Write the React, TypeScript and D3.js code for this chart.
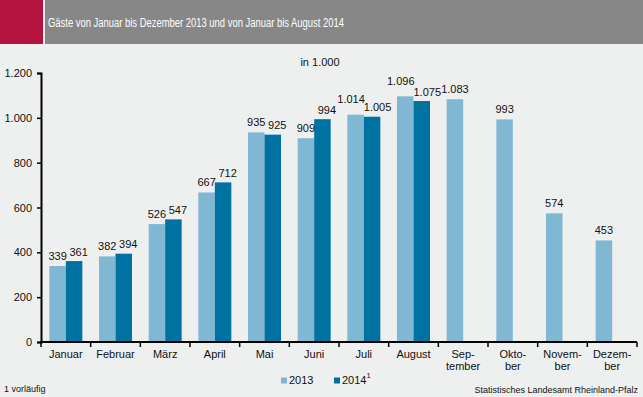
import React, { useEffect, useRef } from 'react';
import * as d3 from 'd3';

const months = ['Januar', 'Februar', 'März', 'April', 'Mai', 'Juni', 'Juli', 'August', 'Sep-|tember', 'Okto-|ber', 'Novem-|ber', 'Dezem-|ber'];
const gaeste2013 = [339, 382, 526, 667, 935, 909, 1014, 1096, 1083, 993, 574, 453];
const gaeste2014 = [361, 394, 547, 712, 925, 994, 1005, 1075];
const yTicks = [0, 200, 400, 600, 800, 1000, 1200];

const W = 643;
const H = 397;
const FONT = '"Liberation Sans", Arial, sans-serif';
const LIGHT = '#80b8d4';
const DARK = '#0072a2';

const de = d3.formatLocale({ decimal: ',', thousands: '.', grouping: [3], currency: ['', ' €'] });
const fmt = de.format(',d');

const App = () => {
  const svgRef = useRef<SVGSVGElement>(null);

  useEffect(() => {
    const svg = d3.select(svgRef.current);
    svg.selectAll('*').remove();

    svg.append('rect').attr('width', W).attr('height', H).attr('fill', '#eef0ef');

    // Kopfzeile (schmale Schrift per textLength nachgebildet)
    svg.append('rect').attr('x', 0).attr('y', 0).attr('width', 43).attr('height', 44).attr('fill', '#b5133f');
    svg.append('rect').attr('x', 45).attr('y', 0).attr('width', W - 45).attr('height', 44).attr('fill', '#878787');
    svg.append('text')
      .attr('x', 48).attr('y', 26.5)
      .attr('fill', '#fff').attr('font-size', 12).attr('font-family', FONT)
      .attr('textLength', 296).attr('lengthAdjust', 'spacingAndGlyphs')
      .text('Gäste von Januar bis Dezember 2013 und von Januar bis August 2014');

    svg.append('text')
      .attr('x', 320).attr('y', 66).attr('text-anchor', 'middle')
      .attr('font-size', 11).attr('font-family', FONT).attr('fill', '#111')
      .text('in 1.000');

    const x = d3.scaleBand<string>().domain(months).range([41, 637]);
    const y = d3.scaleLinear().domain([0, 1200]).range([342, 73]);
    const bw = x.bandwidth();
    const barW = 16.5;
    const gap = (bw - 2 * barW) / 2;

    const g = svg.append('g').attr('font-family', FONT);

    g.selectAll('.b13').data(gaeste2013).enter().append('rect')
      .attr('x', (d, i) => (x(months[i]) as number) + gap)
      .attr('y', d => y(d))
      .attr('width', barW)
      .attr('height', d => y(0) - y(d))
      .attr('fill', LIGHT);

    g.selectAll('.b14').data(gaeste2014).enter().append('rect')
      .attr('x', (d, i) => (x(months[i]) as number) + gap + barW)
      .attr('y', d => y(d))
      .attr('width', barW)
      .attr('height', d => y(0) - y(d))
      .attr('fill', DARK);

    // Beschriftungen: bei zwei vierstelligen Werten nebeneinander auseinanderschieben
    const crowded = (i: number) => i < gaeste2014.length && gaeste2013[i] >= 1000 && gaeste2014[i] >= 1000;

    g.selectAll('.l13').data(gaeste2013).enter().append('text')
      .attr('x', (d, i) => (x(months[i]) as number) + gap + barW / 2 - (crowded(i) ? 4.5 : 0))
      .attr('y', (d, i) => y(d) - (crowded(i) ? 11.5 : 6))
      .attr('text-anchor', 'middle').attr('font-size', 11).attr('fill', '#111')
      .text(d => fmt(d));

    g.selectAll('.l14').data(gaeste2014).enter().append('text')
      .attr('x', (d, i) => (x(months[i]) as number) + gap + barW * 1.5 + (crowded(i) ? 5.5 : 4.5))
      .attr('y', d => y(d) - 5.5)
      .attr('text-anchor', 'middle').attr('font-size', 11).attr('fill', '#111')
      .text(d => fmt(d));

    // y-Achse
    const yAxis = g.append('g').attr('transform', 'translate(41,0)')
      .call(d3.axisLeft(y).tickValues(yTicks).tickSize(4).tickPadding(5).tickFormat(d => fmt(d as number)));
    yAxis.select('.domain').attr('stroke', '#000').attr('stroke-width', 2);
    yAxis.selectAll('.tick line').attr('stroke', '#000').attr('stroke-width', 1.5);
    yAxis.selectAll('.tick text').attr('font-size', 11).attr('font-family', FONT).attr('fill', '#111');

    // x-Achse
    const xa = g.append('g').attr('transform', 'translate(0,342)');
    xa.append('line').attr('x1', 40).attr('x2', 637).attr('y1', 0).attr('y2', 0).attr('stroke', '#000').attr('stroke-width', 2);
    const bounds = months.map(m => x(m) as number).concat([x.range()[1]]);
    xa.selectAll('.xt').data(bounds).enter().append('line')
      .attr('x1', d => d).attr('x2', d => d).attr('y1', 0).attr('y2', 5)
      .attr('stroke', '#000').attr('stroke-width', 1.5);
    xa.selectAll('.xl').data(months).enter().append('text')
      .attr('y', 16)
      .attr('text-anchor', 'middle').attr('font-size', 11).attr('fill', '#111')
      .each(function (d) {
        const t = d3.select(this);
        d.split('|').forEach((p, k) => {
          t.append('tspan').attr('x', (x(d) as number) + bw / 2).attr('dy', k === 0 ? 0 : 12).text(p);
        });
      });

    // Legende
    const lg = svg.append('g').attr('font-family', FONT).attr('font-size', 11).attr('fill', '#111');
    lg.append('rect').attr('x', 281).attr('y', 377.5).attr('width', 6).attr('height', 6).attr('fill', LIGHT);
    lg.append('text').attr('x', 289).attr('y', 384).text('2013');
    lg.append('rect').attr('x', 334).attr('y', 377.5).attr('width', 6).attr('height', 6).attr('fill', DARK);
    const t14 = lg.append('text').attr('x', 342).attr('y', 384).text('2014');
    t14.append('tspan').attr('dy', -6).attr('font-size', 7.5).text('1');

    svg.append('text').attr('x', 4).attr('y', 392).attr('font-family', FONT).attr('font-size', 9).attr('fill', '#111')
      .text('1 vorläufig');
    svg.append('text').attr('x', 638).attr('y', 393).attr('text-anchor', 'end')
      .attr('font-family', FONT).attr('font-size', 9).attr('fill', '#111')
      .text('Statistisches Landesamt Rheinland-Pfalz');
  }, []);

  return (
    <svg ref={svgRef} width={W} height={H} style={{ display: 'block', position: 'absolute', left: 0, top: 0 }} />
  );
};

export default App;
